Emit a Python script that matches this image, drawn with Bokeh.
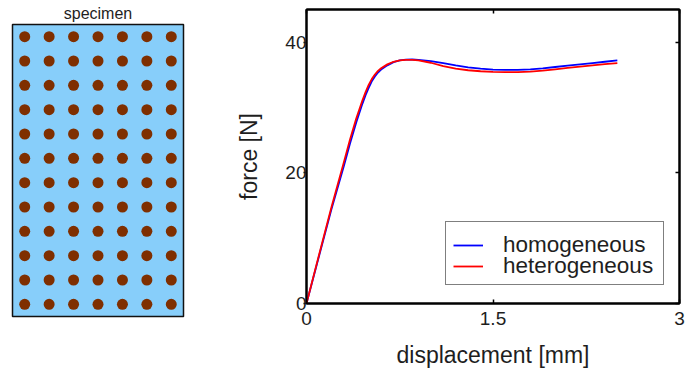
from bokeh.plotting import figure
from bokeh.models import (Range1d, LinearAxis, FixedTicker, Legend, LegendItem, Title)
from bokeh.embed import file_html
from bokeh.resources import INLINE

# ---------------- data ----------------
specimen_title = "specimen"
inclusion_cols = 7
inclusion_rows = 12

displacement = [0, 0.1, 0.2, 0.3, 0.35, 0.4, 0.45, 0.475, 0.5, 0.525, 0.55, 0.575, 0.6,
                0.65, 0.7, 0.75, 0.8, 0.85, 0.9, 1.0, 1.1, 1.2, 1.3, 1.4, 1.5, 1.6, 1.7,
                1.8, 1.9, 2.0, 2.1, 2.2, 2.3, 2.4, 2.5]
force_homogeneous = [0, 7.2, 14.4, 21.0, 24.5, 27.7, 30.6, 31.9, 33.0, 34.0, 34.75, 35.35,
                     35.8, 36.45, 36.95, 37.2, 37.32, 37.35, 37.3, 37.1, 36.8, 36.45,
                     36.15, 35.95, 35.8, 35.75, 35.75, 35.85, 36.0, 36.2, 36.4, 36.6,
                     36.8, 37.0, 37.2]
force_heterogeneous = [0, 7.4, 14.7, 21.6, 25.1, 28.3, 31.1, 32.35, 33.45, 34.35, 35.05,
                       35.6, 36.0, 36.6, 37.0, 37.22, 37.3, 37.3, 37.2, 36.85, 36.35,
                       35.95, 35.7, 35.55, 35.45, 35.4, 35.4, 35.5, 35.65, 35.85, 36.05,
                       36.25, 36.45, 36.65, 36.8]

x_ticks = [0, 1.5, 3]
x_tick_labels = ["0", "1.5", "3"]
y_ticks = [0, 20, 40]
y_tick_labels = ["0", "20", "40"]
series_names = ["homogeneous", "heterogeneous"]
series_colors = ["#0000ff", "#ff0000"]

FONT = "Liberation Sans"
TXT = "#1e1e1e"

# ---------------- specimen panel ----------------
p1 = figure(frame_width=171, frame_height=292, title=None,
            output_backend="svg", toolbar_location=None,
            x_range=Range1d(0, inclusion_cols), y_range=Range1d(0, inclusion_rows),
            x_axis_type=None, y_axis_type=None,
            min_border_left=12, min_border_right=25, min_border_top=24, min_border_bottom=44)
p1.grid.visible = False
p1.background_fill_color = "#87cefa"
p1.outline_line_color = "#111111"
p1.outline_line_width = 1.5

dot_x = [c + 0.5 for r in range(inclusion_rows) for c in range(inclusion_cols)]
dot_y = [r + 0.5 for r in range(inclusion_rows) for c in range(inclusion_cols)]
p1.scatter(dot_x, dot_y, size=11, marker="circle", fill_color="#7f2f00", line_color=None)

p1.add_layout(Title(text=specimen_title, align="center", text_font=FONT,
                    text_font_size="16px", text_font_style="normal",
                    text_color=TXT, standoff=5), "above")

# ---------------- force-displacement panel ----------------
p2 = figure(frame_width=373, frame_height=294, title=None,
            output_backend="svg", toolbar_location=None,
            x_range=Range1d(0, 3), y_range=Range1d(0, 45),
            min_border_left=98, min_border_right=8, min_border_top=9, min_border_bottom=65)
p2.styles = {"position": "absolute", "left": "208px", "top": "0px"}
p2.grid.visible = False
p2.outline_line_color = "black"
p2.outline_line_width = 2

renderers = []
for ys, col in zip([force_homogeneous, force_heterogeneous], series_colors):
    r = p2.line(displacement, ys, line_color=col, line_width=1.8)
    renderers.append(r)

xa = p2.xaxis[0]
ya = p2.yaxis[0]
xa.ticker = FixedTicker(ticks=x_ticks)
ya.ticker = FixedTicker(ticks=y_ticks)
xa.major_label_overrides = {float(t): l for t, l in zip(x_ticks, x_tick_labels)}
ya.major_label_overrides = {float(t): l for t, l in zip(y_ticks, y_tick_labels)}
xa.axis_label = "displacement [mm]"
ya.axis_label = "force [N]"
for ax in (xa, ya):
    ax.axis_line_width = 2
    ax.axis_line_color = "black"
    ax.major_tick_line_color = "black"
    ax.major_tick_line_width = 1.5
    ax.minor_tick_line_color = None
    ax.major_label_text_font = FONT
    ax.major_label_text_font_size = "19px"
    ax.major_label_text_color = TXT
    ax.axis_label_text_font = FONT
    ax.axis_label_text_font_size = "23px"
    ax.axis_label_text_font_style = "normal"
    ax.axis_label_text_color = TXT
xa.major_tick_in = 4
xa.major_tick_out = 0
xa.major_label_standoff = 8
xa.axis_label_standoff = 14
ya.major_tick_in = 0
ya.major_tick_out = 3
ya.major_label_standoff = -3
ya.axis_label_standoff = 20

top_ax = LinearAxis(ticker=FixedTicker(ticks=x_ticks))
right_ax = LinearAxis(ticker=FixedTicker(ticks=y_ticks))
for ax, tks in ((top_ax, x_ticks), (right_ax, y_ticks)):
    ax.major_tick_in = 4
    ax.major_tick_out = 0
    ax.minor_tick_line_color = None
    ax.major_tick_line_width = 1.5
    ax.axis_line_width = 2
    ax.major_label_text_font_size = "0px"
    ax.major_label_standoff = 0
    ax.axis_label_standoff = 0
    ax.major_label_overrides = {float(t): "" for t in tks}
p2.add_layout(top_ax, "above")
p2.add_layout(right_ax, "right")

# legend frame (an empty, bordered legend) + two borderless item rows on top of it
frame_dummy = p2.line([], [], line_alpha=0)
legend_box = Legend(items=[LegendItem(label=" ", renderers=[frame_dummy])],
                    location=(139, 18), padding=0, margin=0, spacing=0,
                    glyph_width=30, glyph_height=62, label_width=187, label_height=62,
                    label_standoff=0, label_text_alpha=0,
                    border_line_color="black", border_line_width=1.5,
                    background_fill_color="white", background_fill_alpha=1)
p2.add_layout(legend_box, "center")

row_offsets = [43, 22]
for name, r, yoff in zip(series_names, renderers, row_offsets):
    lg = Legend(items=[LegendItem(label=name, renderers=[r])],
                location=(147, yoff), padding=0, margin=0, spacing=0,
                glyph_width=30, glyph_height=30, label_height=30,
                label_standoff=20,
                label_text_font=FONT, label_text_font_size="22.5px", label_text_color=TXT,
                border_line_color=None, background_fill_alpha=0)
    p2.add_layout(lg, "center")

open("out.html", "w").write(file_html([p1, p2], INLINE))
